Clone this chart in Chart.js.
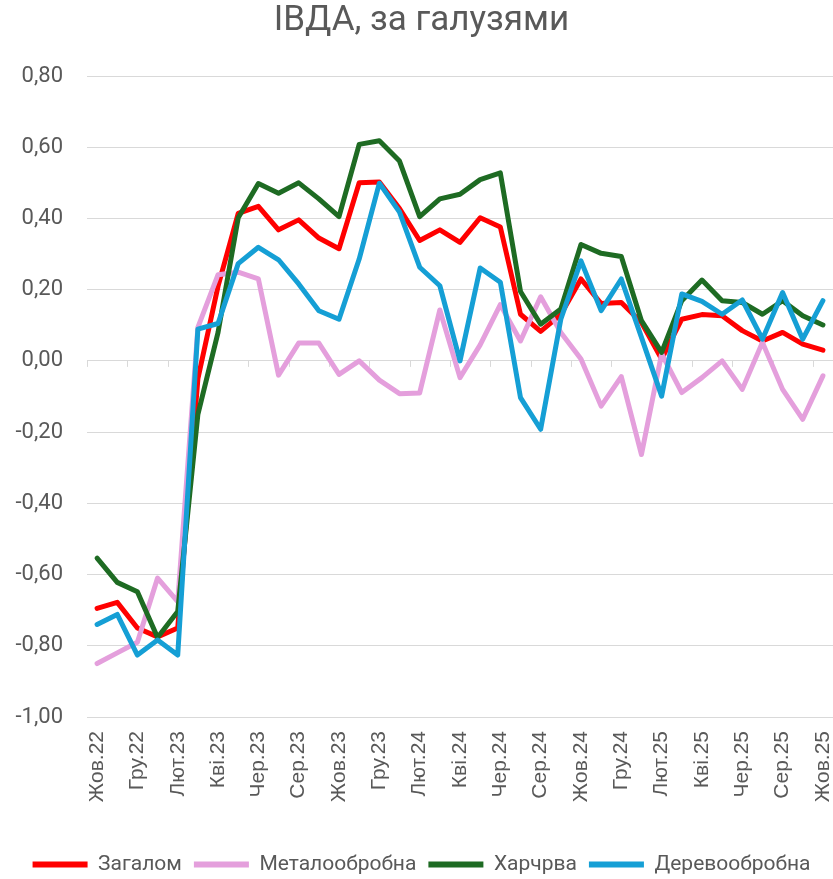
<!DOCTYPE html>
<html>
<head>
<meta charset="utf-8">
<script src="https://cdn.jsdelivr.net/npm/chart.js@4"></script>
<style>
  body { margin: 0; background: #fff; }
</style>
</head>
<body>
<canvas id="ivdaChart" width="833" height="879"></canvas>
<script>
// months, Oct 2022 - Oct 2025
const months = ['Жов.22','Лис.22','Гру.22','Січ.23','Лют.23','Бер.23','Кві.23','Тра.23','Чер.23','Лип.23','Сер.23','Вер.23',
    'Жов.23','Лис.23','Гру.23','Січ.24','Лют.24','Бер.24','Кві.24','Тра.24','Чер.24','Лип.24','Сер.24','Вер.24',
    'Жов.24','Лис.24','Гру.24','Січ.25','Лют.25','Бер.25','Кві.25','Тра.25','Чер.25','Лип.25','Сер.25','Вер.25','Жов.25'];

const zagalom = [-0.695, -0.678, -0.75, -0.775, -0.75, -0.05, 0.21, 0.414, 0.434, 0.368, 0.396, 0.345, 0.315,
    0.50, 0.502, 0.428, 0.338, 0.368, 0.333, 0.402, 0.376, 0.131, 0.083, 0.13, 0.23, 0.161, 0.164, 0.108,
    0.005, 0.117, 0.130, 0.127, 0.085, 0.056, 0.080, 0.047, 0.030];

const metal = [-0.85, -0.82, -0.79, -0.61, -0.676, 0.094, 0.242, 0.249, 0.23, -0.04, 0.05, 0.05, -0.038,
    0.0, -0.054, -0.092, -0.09, 0.143, -0.047, 0.045, 0.158, 0.056, 0.18, 0.08, 0.005, -0.127, -0.044, -0.263,
    0.02, -0.089, -0.047, 0.0, -0.08, 0.052, -0.08, -0.164, -0.042];

const harch = [-0.554, -0.622, -0.648, -0.777, -0.704, -0.15, 0.08, 0.402, 0.498, 0.471, 0.50, 0.455, 0.405,
    0.608, 0.618, 0.561, 0.405, 0.455, 0.468, 0.509, 0.528, 0.195, 0.103, 0.146, 0.327, 0.302, 0.293, 0.113,
    0.024, 0.169, 0.227, 0.169, 0.164, 0.131, 0.169, 0.127, 0.101];

const derevo = [-0.74, -0.712, -0.826, -0.784, -0.826, 0.089, 0.105, 0.273, 0.319, 0.284, 0.216, 0.141, 0.117,
    0.286, 0.499, 0.418, 0.263, 0.211, 0.0, 0.261, 0.221, -0.103, -0.192, 0.117, 0.281, 0.141, 0.230, 0.066,
    -0.099, 0.188, 0.167, 0.131, 0.171, 0.061, 0.192, 0.061, 0.169];

const textColor = '#595959';
const gridColor = '#d9d9d9';

// small tick marks hanging from the zero line, every 2 months
const zeroTicks = {
    id: 'zeroTicks',
    beforeDatasetsDraw(chart) {
        const xs = chart.scales.x;
        const ys = chart.scales.y;
        const ctx = chart.ctx;
        const y0 = ys.getPixelForValue(0);
        const step = xs.getPixelForValue(1) - xs.getPixelForValue(0);
        const start = xs.getPixelForValue(0) - step / 2;
        ctx.save();
        ctx.strokeStyle = gridColor;
        ctx.lineWidth = 1;
        for (let i = 0; i <= months.length; i += 2) {
            const px = Math.round(start + i * step) + 0.5;
            ctx.beginPath();
            ctx.moveTo(px, y0);
            ctx.lineTo(px, y0 + 6);
            ctx.stroke();
        }
        ctx.restore();
    }
};

function line(label, data, color, order) {
    return {
        label: label,
        data: data,
        borderColor: color,
        backgroundColor: color,
        borderWidth: 5,
        borderCapStyle: 'round',
        borderJoinStyle: 'round',
        pointRadius: 0,
        tension: 0,
        fill: false,
        order: order // later series on top, like the original
    };
}

new Chart(document.getElementById('ivdaChart'), {
    type: 'line',
    data: {
        labels: months,
        datasets: [
            line('Загалом', zagalom, '#ff0000', 4),
            line('Металообробна', metal, '#e49fdc', 3),
            line('Харчрва', harch, '#1e6b23', 2),
            line('Деревообробна', derevo, '#159fd5', 1)
        ]
    },
    plugins: [zeroTicks],
    options: {
        responsive: false,
        animation: false,
        layout: {
            padding: { left: 10, right: 0, top: 0, bottom: -6 }
        },
        scales: {
            x: {
                offset: true,
                grid: { display: false },
                border: { display: false },
                ticks: {
                    autoSkip: false,
                    maxRotation: 90,
                    minRotation: 90,
                    padding: 6,
                    color: textColor,
                    font: { family: 'Liberation Sans', size: 21 },
                    callback: function (val, idx) {
                        return idx % 2 === 0 ? this.getLabelForValue(val) : '';
                    }
                },
                afterFit: (scale) => {
                    scale.height = 125;
                    scale.paddingRight = 0; // let the plot run to the right edge
                }
            },
            y: {
                min: -1,
                max: 0.8,
                grid: { color: gridColor, drawTicks: false },
                border: { display: false },
                ticks: {
                    stepSize: 0.2,
                    padding: 24,
                    color: textColor,
                    font: { family: 'Roboto', size: 22 },
                    callback: (v) => v.toFixed(2).replace('.', ',')
                },
                afterFit: (scale) => { scale.width = 77; }
            }
        },
        plugins: {
            title: {
                display: true,
                text: 'ІВДА, за галузями',
                color: textColor,
                font: { family: 'Roboto', size: 35, weight: 'normal' },
                padding: { top: 0, bottom: 34 }
            },
            legend: {
                position: 'bottom',
                labels: {
                    usePointStyle: true,
                    pointStyle: 'line',
                    pointStyleWidth: 55,
                    padding: 12,
                    color: textColor,
                    font: { family: 'Roboto', size: 21 },
                    sort: (a, b) => a.datasetIndex - b.datasetIndex,
                    generateLabels: (chart) => Chart.defaults.plugins.legend.labels.generateLabels(chart)
                        .map(item => Object.assign(item, { lineWidth: 6, pointStyle: 'line' }))
                }
            },
            tooltip: { enabled: false }
        }
    }
});
</script>
</body>
</html>
